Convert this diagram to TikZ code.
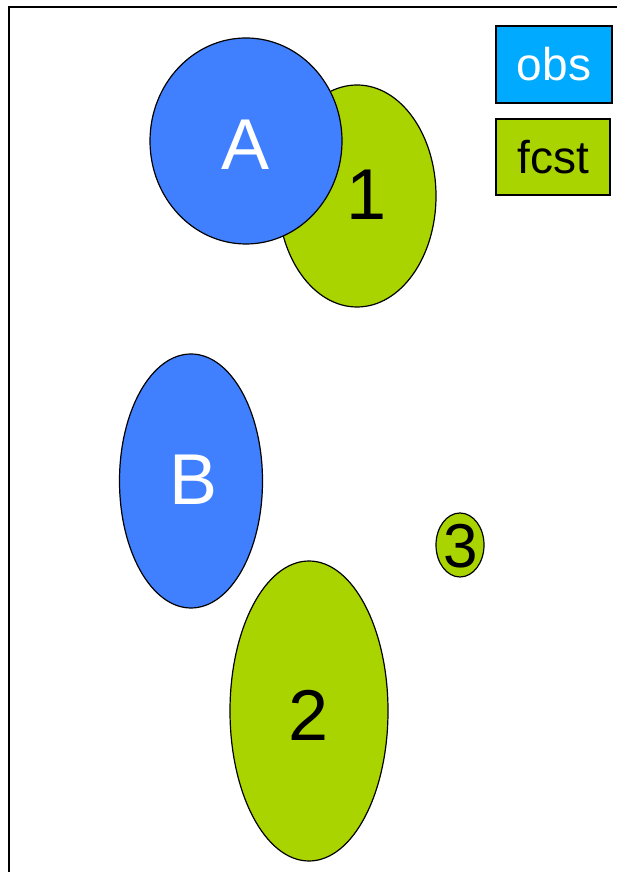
\documentclass[tikz,border=0pt]{standalone}
\usepackage{fontspec}
\setmainfont{Liberation Sans}
\usetikzlibrary{shapes.geometric}
\definecolor{obsblue}{HTML}{4080FF}
\definecolor{legblue}{HTML}{00AAFF}
\definecolor{fgreen}{HTML}{AAD400}
\tikzset{
  blob/.style={ellipse, draw=black, line width=1.2pt, inner sep=0pt},
  obsblob/.style={blob, fill=obsblue},
  fcblob/.style={blob, fill=fgreen},
  biglabel/.style={font=\fontsize{72}{72}\selectfont, inner sep=0pt},
  legbox/.style={draw=black, line width=1.5pt, minimum width=114pt, minimum height=76pt, inner sep=0pt, font=\fontsize{46}{46}\selectfont}
}
\begin{document}
\begin{tikzpicture}[x=1pt,y=1pt]
\useasboundingbox (0,0) rectangle (617,872);
\coordinate (bl) at (9,0);
\coordinate (tl) at (9,865);
\coordinate (tr) at (617,865);
\draw[line width=2.2pt] (bl) -- (tl) -- (tr);
% ellipses
\node[fcblob, minimum width=158pt, minimum height=222pt] (e1) at (357,676) {};
\node[obsblob, minimum width=192pt, minimum height=206pt] (eA) at (246,731) {};
\node[obsblob, minimum width=143pt, minimum height=254pt] (eB) at (191,391) {};
\node[fcblob, minimum width=158pt, minimum height=300pt] (e2) at (309,161) {};
\node[fcblob, minimum width=48pt, minimum height=64pt] (e3) at (460,327) {};
% labels
\node[biglabel, text=white] (tA) at (246,727) {A};
\node[biglabel] (t1) at (367,677) {1};
\node[biglabel, text=white] (tB) at (194,392) {B};
\node[biglabel] (t2) at (309,157) {2};
\node[font=\fontsize{62}{62}\selectfont, inner sep=0pt] (t3) at (461,326) {3};
% legend
\node[legbox, fill=legblue, text=white, minimum width=116pt, minimum height=77pt] (lobs) at (554,807.5) {obs};
\node[legbox, fill=fgreen] (lfc) at (553,715) {fcst};
\end{tikzpicture}
\end{document}
